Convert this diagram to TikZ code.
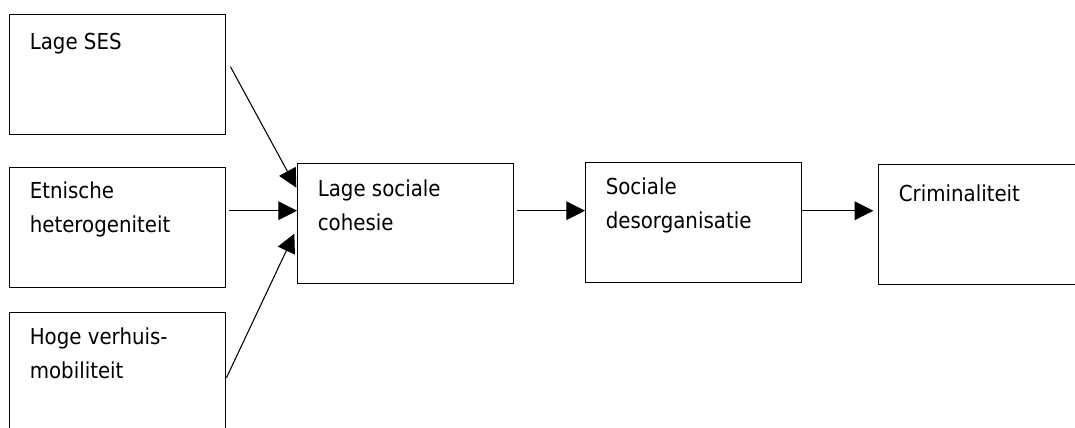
\documentclass[tikz,border=0pt]{standalone}
\usepackage{fontspec}
\setmainfont{DejaVu Sans}[FakeStretch=0.9]
\usetikzlibrary{arrows.meta}

\tikzset{
  kader/.style={draw, rectangle, line width=1.1pt, anchor=north west,
    minimum width=162pt, minimum height=90pt, inner sep=0pt},
  tekst/.style={anchor=north west, inner sep=0pt, align=left,
    font=\fontsize{16.5}{25.5}\selectfont},
  pijl/.style={line width=0.8pt, -{Triangle[length=14pt,width=14pt]}}
}

\begin{document}
\begin{tikzpicture}[x=0.75pt,y=-0.75pt]
    \useasboundingbox (0,0) rectangle (1075,428);
    % draw boxes
    \node[kader] (ses) at (9,14) {};%SES
    \node[kader] (etnisch) at (9,167) {};%etnisch
    \node[kader] (mobiel) at (9,312) {};%mobiliteit
    \node[kader] (cohesie) at (297,163) {};%cohesie
    \node[kader] (desorg) at (585,162) {};%desorganisatie
    \node[kader] (crimi) at (878,164) {};%criminaliteit
    % texts in boxes
    \node[tekst] (sestxt) at ([xshift=15.4pt,yshift=-14pt]ses.north west) {Lage SES};
    \node[tekst] (etnischtxt) at ([xshift=15.4pt,yshift=-11.2pt]etnisch.north west) {Etnische\\heterogeniteit};
    \node[tekst] (mobieltxt) at ([xshift=15.4pt,yshift=-11.8pt]mobiel.north west) {Hoge verhuis-\\mobiliteit};
    \node[tekst] (cohesietxt) at ([xshift=15.4pt,yshift=-12.3pt]cohesie.north west) {Lage sociale\\cohesie};
    \node[tekst] (desorgtxt) at ([xshift=15.4pt,yshift=-11.8pt]desorg.north west) {Sociale\\desorganisatie};
    \node[tekst] (crimitxt) at ([xshift=15.4pt,yshift=-15.3pt]crimi.north west) {Criminaliteit};
    % draw arrows
    \draw[pijl] ([xshift=3pt,yshift=6pt]ses.east) -- ([xshift=-0.5pt,yshift=27pt]cohesie.west);
    \draw[pijl] ([xshift=2.25pt,yshift=12.75pt]etnisch.east) -- ([yshift=9.75pt]cohesie.west);
    \draw[pijl] ([yshift=-3.75pt]mobiel.east) -- ([xshift=-2pt,yshift=-7.5pt]cohesie.west);
    \draw[pijl] ([xshift=2.25pt,yshift=9.75pt]cohesie.east) -- ([yshift=9pt]desorg.west);
    \draw[pijl] ([yshift=9pt]desorg.east) -- ([xshift=-3.5pt,yshift=10.5pt]crimi.west);
\end{tikzpicture}
\end{document}
